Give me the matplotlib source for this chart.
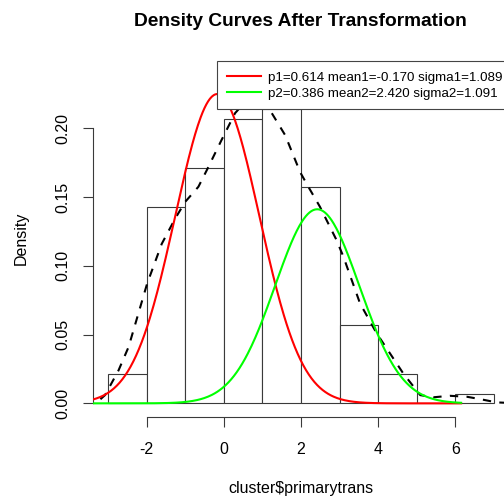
import numpy as np
import matplotlib
matplotlib.use("Agg")
import matplotlib.pyplot as plt

plt.rcParams["font.family"] = ["Liberation Sans", "DejaVu Sans"]
plt.rcParams["axes.unicode_minus"] = False

# Histogram of the transformed variable (unit-width bins, counts per bin)
bin_edges = [-3, -2, -1, 0, 1, 2, 3, 4, 5, 6, 7]
bin_counts = [3, 20, 24, 29, 30, 22, 8, 3, 0, 1]

# Kernel density estimate of the same variable
kde_x = [-3.2, -3.08, -2.73, -2.47, -1.99, -1.61, -1.26, -1.0, -0.66, -0.44,
         -0.06, 0.29, 0.45, 0.8, 1.2, 1.59, 1.98, 2.19, 2.49, 2.92,
         3.10, 3.53, 3.96, 4.48, 4.65, 5.09, 5.43, 5.86, 6.30, 6.64, 7.07, 7.4]
kde_y = [0.003, 0.006, 0.024, 0.041, 0.087, 0.116, 0.1345, 0.1466, 0.1575, 0.1697,
         0.1915, 0.211, 0.216, 0.222, 0.213, 0.195, 0.168, 0.1575, 0.143, 0.1188,
         0.1066, 0.0727, 0.051, 0.029, 0.0218, 0.006, 0.0044, 0.0055, 0.0048, 0.0031, 0.0007, 0.0003]

# Fitted two-component normal mixture
p1, mean1, sigma1 = 0.614, -0.170, 1.089
p2, mean2, sigma2 = 0.386, 2.420, 1.091
curve_range = (-3.4, 6.15)

x_ticks = [-2, 0, 2, 4, 6]
y_ticks = [0.00, 0.05, 0.10, 0.15, 0.20]

W, H = 504, 498
fig = plt.figure(figsize=(W / 100, H / 100), dpi=100)
ax = fig.add_axes([92.7 / W, (H - 416.5) / H, (509.3 - 92.7) / W, (416.5 - 61.5) / H])
ax.set_xlim(-3.4, 7.4)
ax.set_ylim(-0.00956, 0.2486)

edge = "#3a3a3a"
n = sum(bin_counts)
widths = np.diff(bin_edges)
density = np.array(bin_counts) / (n * widths)
ax.bar(bin_edges[:-1], density, width=widths, align="edge",
       facecolor="white", edgecolor=edge, linewidth=0.8, zorder=1)

ax.plot(kde_x, kde_y, color="black", linewidth=1.5, dashes=(4, 4), zorder=2)


def normal_pdf(x, m, s):
    return np.exp(-0.5 * ((x - m) / s) ** 2) / (s * np.sqrt(2 * np.pi))


xs = np.linspace(curve_range[0], curve_range[1], 400)
lab1 = f"p1={p1:.3f} mean1={mean1:.3f} sigma1={sigma1:.3f}"
lab2 = f"p2={p2:.3f} mean2={mean2:.3f} sigma2={sigma2:.3f}"
l1, = ax.plot(xs, p1 * normal_pdf(xs, mean1, sigma1), color="#ff0000", linewidth=1.5, zorder=3, label=lab1)
l2, = ax.plot(xs, p2 * normal_pdf(xs, mean2, sigma2), color="#00ff00", linewidth=1.5, zorder=4, label=lab2)

for s in ("top", "right"):
    ax.spines[s].set_visible(False)
ax.spines["bottom"].set_bounds(-2, 6)
ax.spines["left"].set_bounds(0, 0.2)
for s in ("bottom", "left"):
    ax.spines[s].set_color(edge)
    ax.spines[s].set_linewidth(0.8)

ax.set_xticks(x_ticks)
ax.set_xticklabels([str(v) for v in x_ticks])
ax.set_yticks(y_ticks)
ax.set_yticklabels([f"{v:.2f}" for v in y_ticks])
ax.tick_params(axis="both", direction="out", length=7.2, width=0.8, color=edge,
               labelsize=11.5, labelcolor="black")
ax.tick_params(axis="x", pad=11)
ax.tick_params(axis="y", pad=8.7)
for lab in ax.get_yticklabels():
    lab.set_rotation(90)
    lab.set_va("center")
    lab.set_ha("right")

leg = ax.legend(handles=[l1, l2], loc="upper left", bbox_to_anchor=(0.2984, 1.0),
                borderaxespad=0, borderpad=0.75, handlelength=2.53, handletextpad=0.57,
                labelspacing=0.25, fontsize=9.6, frameon=True, fancybox=False,
                framealpha=1, edgecolor="#444444")
leg.get_frame().set_linewidth(0.8)
leg.set_zorder(10)

fig.text(300.5 / W, 1 - 26 / H, "Density Curves After Transformation",
         ha="center", va="baseline", fontsize=13.8, fontweight="bold")
fig.text(21.7 / W, 1 - 238 / H, "Density", rotation=90, ha="center", va="center", fontsize=11.5)
fig.text(300.5 / W, 1 - 488 / H, "cluster$primarytrans", ha="center", va="center", fontsize=11.5)

fig.savefig("out.png", dpi=100, facecolor="white")
